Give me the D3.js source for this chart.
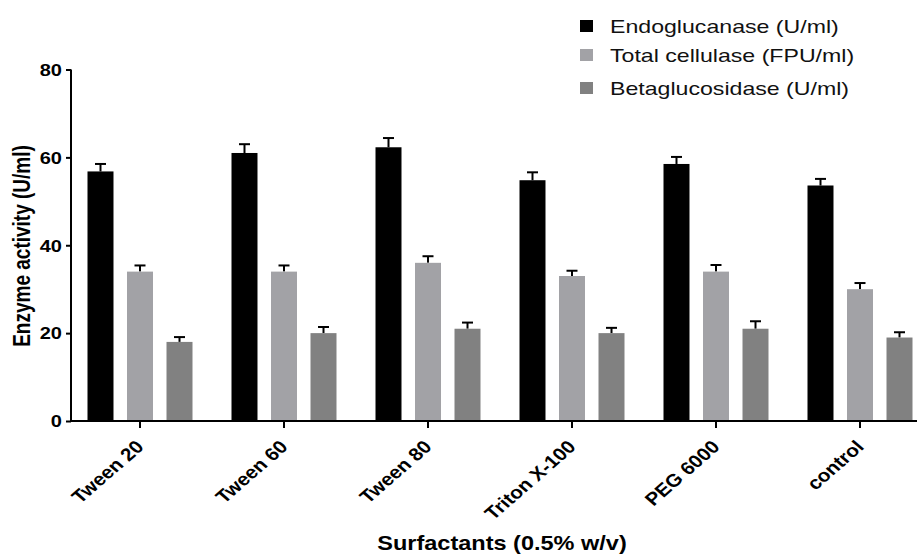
<!DOCTYPE html>
<html>
<head>
<meta charset="utf-8">
<script src="https://cdn.jsdelivr.net/npm/d3@7"></script>
<style>
  html, body { margin: 0; padding: 0; background: #fff; }
  svg { display: block; font-family: "Liberation Sans", Arial, Helvetica, sans-serif; }
</style>
</head>
<body>
<svg id="chart" width="917" height="555"></svg>
<script>
// Surfactant treatments and the three enzyme activities measured for each
const categories = ["Tween 20", "Tween 60", "Tween 80", "Triton X-100", "PEG 6000", "control"];
const seriesNames = ["Endoglucanase (U/ml)", "Total cellulase (FPU/ml)", "Betaglucosidase (U/ml)"];
const endoglucanase = [56.8, 61.0, 62.3, 54.8, 58.5, 53.6];
const totalCellulase = [34.0, 34.0, 36.0, 33.0, 34.0, 30.0];
const betaglucosidase = [18.0, 20.0, 21.0, 20.0, 21.0, 19.0];
// Standard deviations (drawn upward only)
const endoErr = [1.7, 2.0, 2.1, 1.8, 1.6, 1.5];
const totalErr = [1.4, 1.4, 1.5, 1.2, 1.5, 1.4];
const betaErr = [1.1, 1.4, 1.4, 1.2, 1.7, 1.2];
const yTicks = [0, 20, 40, 60, 80];
const colors = ["#000000", "#a2a2a6", "#818181"];

const values = [endoglucanase, totalCellulase, betaglucosidase];
const errors = [endoErr, totalErr, betaErr];

// The figure is laid out wider than tall; text glyphs share that horizontal stretch.
const SX = 1.25;

const svg = d3.select("#chart");
const x0 = 71, y0 = 421;

const x = d3.scaleBand().domain(categories).range([68, 932]).paddingInner(0).paddingOuter(0);
const xs = d3.scaleBand().domain(d3.range(3)).range([-52.5, 52.5]).paddingInner(0.342).paddingOuter(0);
const y = d3.scaleLinear().domain([0, 80]).range([y0, 69.5]);

const rows = [];
categories.forEach((c, i) => {
  values.forEach((arr, s) => rows.push({ c, s, v: arr[i], e: errors[s][i] }));
});

const g = svg.append("g");

// error bars (upper half only)
const eb = g.selectAll("g.err").data(rows).join("g").attr("class", "err")
  .attr("transform", d => `translate(${x(d.c) + x.bandwidth() / 2 + xs(d.s) + xs.bandwidth() / 2},0)`);
eb.append("line").attr("x1", 0).attr("x2", 0)
  .attr("y1", d => y(d.v)).attr("y2", d => y(d.v + d.e))
  .attr("stroke", "#000").attr("stroke-width", 2);
eb.append("line").attr("x1", -5.5).attr("x2", 5.5)
  .attr("y1", d => y(d.v + d.e)).attr("y2", d => y(d.v + d.e))
  .attr("stroke", "#000").attr("stroke-width", 2);

// bars
g.selectAll("rect.bar").data(rows).join("rect").attr("class", "bar")
  .attr("x", d => x(d.c) + x.bandwidth() / 2 + xs(d.s))
  .attr("width", xs.bandwidth())
  .attr("y", d => y(d.v))
  .attr("height", d => y0 - y(d.v))
  .attr("fill", d => colors[d.s]);

// y axis
const yAxis = svg.append("g").attr("transform", `translate(${x0},0)`)
  .call(d3.axisLeft(y).tickValues(yTicks).tickSize(5).tickPadding(0).tickSizeOuter(0));
yAxis.select(".domain").attr("stroke-width", 2).attr("d", `M0,${y0 + 1}V${y(80)}`);
yAxis.selectAll(".tick line").attr("stroke-width", 2);
yAxis.selectAll(".tick text")
  .attr("font-size", 16).attr("font-weight", "bold").attr("fill", "#000")
  .attr("font-family", "Liberation Sans, Arial, sans-serif")
  .attr("x", 0).attr("dy", "0.36em")
  .attr("transform", `translate(-9,0) scale(${SX},1)`);

// x axis
const xAxis = svg.append("g").attr("transform", `translate(0,${y0})`)
  .call(d3.axisBottom(x).tickSize(7).tickSizeOuter(0));
xAxis.select(".domain").attr("stroke-width", 2).attr("d", `M${x0 - 1},0H917`);
xAxis.selectAll(".tick line").attr("stroke-width", 2);
xAxis.selectAll(".tick text")
  .attr("font-size", 18).attr("font-weight", "bold").attr("fill", "#000")
  .attr("font-family", "Liberation Sans, Arial, sans-serif")
  .attr("text-anchor", "end")
  .attr("dy", null).attr("y", 0)
  .attr("transform", "translate(5,27) scale(1.15,1) rotate(-45)");

// axis titles
svg.append("text")
  .attr("transform", `translate(30,246) scale(${SX},1) rotate(-90)`)
  .attr("text-anchor", "middle").attr("font-size", 19).attr("font-weight", "bold")
  .text("Enzyme activity (U/ml)");
svg.append("text")
  .attr("transform", "translate(502,550) scale(1.12,1)")
  .attr("text-anchor", "middle").attr("font-size", 21).attr("font-weight", "bold")
  .text("Surfactants (0.5% w/v)");

// legend
const legendY = [26, 55, 88];
const lg = svg.selectAll("g.legend").data(seriesNames).join("g").attr("class", "legend")
  .attr("transform", (d, i) => `translate(580,${legendY[i]})`);
lg.append("rect").attr("x", 0).attr("y", -6).attr("width", 13).attr("height", 12)
  .attr("fill", (d, i) => colors[i]);
lg.append("text")
  .attr("transform", `translate(30,0) scale(${SX},1)`)
  .attr("dy", "0.36em")
  .attr("font-size", 18.5).attr("fill", "#111").text(d => d);
</script>
</body>
</html>
